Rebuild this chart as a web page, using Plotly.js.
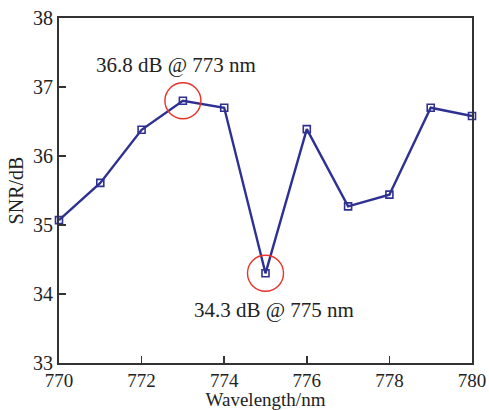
<!DOCTYPE html>
<html>
<head>
<meta charset="utf-8">
<script src="https://cdn.plot.ly/plotly-3.0.1.min.js"></script>
<style>html,body{margin:0;padding:0;background:#fff;}#chart{width:489px;height:410px;}</style>
</head>
<body>
<div id="chart"></div>
<script>
const wavelength = [770, 771, 772, 773, 774, 775, 776, 777, 778, 779, 780];
const snr = [35.07, 35.61, 36.38, 36.80, 36.70, 34.30, 36.39, 35.27, 35.44, 36.70, 36.58];
const xTicks = [770, 772, 774, 776, 778, 780];
const yTicks = [33, 34, 35, 36, 37, 38];
const maxLabel = "36.8 dB @ 773 nm";
const minLabel = "34.3 dB @ 775 nm";
const maxPoint = {x: 773, y: 36.8};
const minPoint = {x: 775, y: 34.3};

const fontFam = "Liberation Serif, Times New Roman, serif";
const trace = {
  x: wavelength, y: snr, type: 'scatter', mode: 'lines+markers',
  line: {color: '#2e3192', width: 2.4},
  marker: {symbol: 'square-open', size: 7, color: '#2e3192', line: {width: 1.6}},
  cliponaxis: false, showlegend: false
};
function circle(p) {
  return {type: 'circle', xref: 'x', yref: 'y', xsizemode: 'pixel', ysizemode: 'pixel',
    xanchor: p.x, yanchor: p.y, x0: -18, x1: 18, y0: -18, y1: 18,
    line: {color: '#e8322b', width: 1.4}};
}
const layout = {
  width: 489, height: 410,
  margin: {l: 59, r: 17, t: 18, b: 47},
  paper_bgcolor: '#fff', plot_bgcolor: '#fff',
  font: {family: fontFam, size: 20, color: '#222'},
  xaxis: {range: [770, 780], tickvals: xTicks, ticks: 'inside', ticklen: 7, tickwidth: 1.5,
    tickcolor: '#333', showline: true, linecolor: '#333', linewidth: 2, mirror: true,
    showgrid: false, zeroline: false, ticklabelstandoff: -1, tickfont: {size: 19},
    title: {text: 'Wavelength/nm', font: {size: 19}, standoff: 0}},
  yaxis: {range: [33, 38], tickvals: yTicks, ticks: 'inside', ticklen: 7, tickwidth: 1.5,
    tickcolor: '#333', showline: true, linecolor: '#333', linewidth: 2, mirror: true,
    showgrid: false, zeroline: false,
    title: {text: 'SNR/dB', font: {size: 20}, standoff: 4}},
  shapes: [circle(maxPoint), circle(minPoint)],
  annotations: [
    {x: 772.83, y: 37.32, xref: 'x', yref: 'y', text: maxLabel, showarrow: false, font: {size: 21}},
    {x: 775.2, y: 33.77, xref: 'x', yref: 'y', text: minLabel, showarrow: false, font: {size: 21}}
  ]
};
Plotly.newPlot('chart', [trace], layout, {displayModeBar: false, staticPlot: true});
</script>
</body>
</html>
